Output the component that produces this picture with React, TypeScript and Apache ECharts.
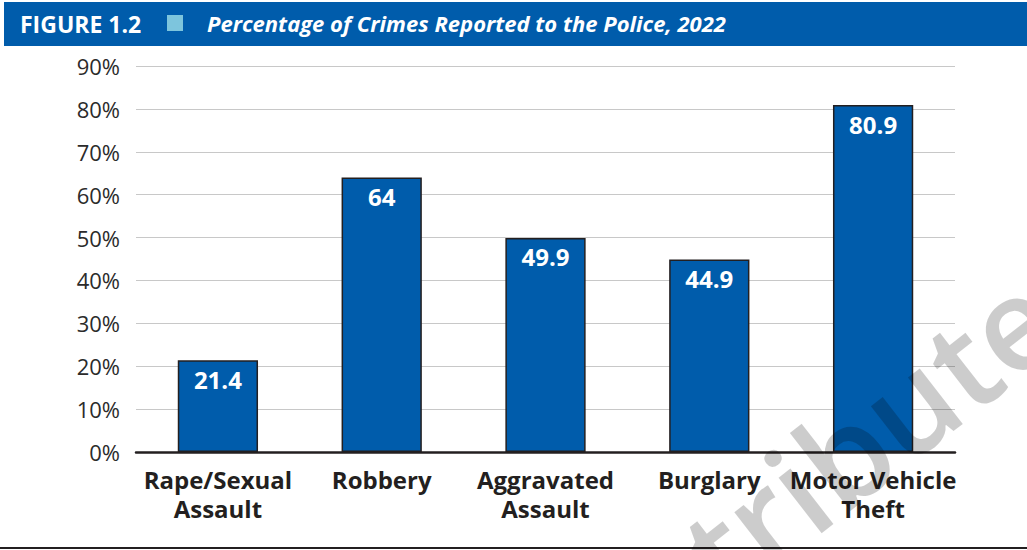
import React, { useEffect, useRef } from "react";
import * as echarts from "echarts";

const categories = ["Rape/Sexual\nAssault", "Robbery", "Aggravated\nAssault", "Burglary", "Motor Vehicle\nTheft"];
const values = [21.4, 64, 49.9, 44.9, 80.9];
const yTicks = { min: 0, max: 90, interval: 10 };
const figureLabel = "FIGURE 1.2";
const titleText = "Percentage of Crimes Reported to the Police, 2022";
const watermark = "distribute";

export default function App() {
  const ref = useRef<HTMLDivElement>(null);
  useEffect(() => {
    document.body.style.margin = "0";
    const chart = echarts.init(ref.current!, null, { renderer: "svg" });
    chart.setOption({
      animation: false,
      backgroundColor: "#ffffff",
      grid: { left: 136, right: 72, top: 66, bottom: 98 },
      xAxis: {
        type: "category",
        data: categories,
        axisLine: { show: true, lineStyle: { color: "#231f20", width: 2.5 } },
        axisTick: { show: false },
        axisLabel: {
          color: "#231f20",
          fontFamily: "Open Sans",
          fontWeight: "bold",
          fontSize: 24,
          lineHeight: 29,
          margin: 13,
          interval: 0,
        },
      },
      yAxis: {
        type: "value",
        min: yTicks.min,
        max: yTicks.max,
        interval: yTicks.interval,
        axisLine: { show: false },
        axisTick: { show: false },
        splitLine: { lineStyle: { color: "#c8c8c8", width: 1.2 } },
        axisLabel: {
          formatter: "{value}%",
          color: "#2b2b2b",
          fontFamily: "Open Sans",
          fontSize: 22,
          margin: 16,
        },
      },
      series: [
        {
          type: "bar",
          data: values,
          barWidth: "49%",
          itemStyle: { color: "#005cab", borderColor: "#231f20", borderWidth: 1.5 },
          label: {
            show: true,
            position: "insideTop",
            distance: 7,
            color: "#ffffff",
            fontFamily: "Open Sans",
            fontWeight: "bold",
            fontSize: 24,
          },
        },
      ],
      graphic: [
        { type: "rect", shape: { x: 4, y: 2, width: 1023, height: 44 }, style: { fill: "#005cab" } },
        {
          type: "text",
          x: 20,
          y: 24,
          style: {
            text: figureLabel,
            fill: "#ffffff",
            font: "bold 23px 'Open Sans'",
            textVerticalAlign: "middle",
          },
        },
        { type: "rect", shape: { x: 167, y: 15, width: 16, height: 16 }, style: { fill: "#7dc5dd" } },
        {
          type: "text",
          x: 207,
          y: 23,
          style: {
            text: titleText,
            fill: "#ffffff",
            font: "italic bold 22px 'Open Sans'",
            textVerticalAlign: "middle",
          },
        },
        { type: "line", shape: { x1: 0, y1: 548, x2: 1027, y2: 548 }, style: { stroke: "#231f20", lineWidth: 2 } },
        {
          type: "text",
          x: 1040,
          y: 300,
          rotation: 0.66,
          z: 100,
          style: {
            text: watermark,
            fill: "rgba(0,0,0,0.2)",
            fontSize: 130,
            fontFamily: "Open Sans",
            fontWeight: 600,
            textAlign: "right",
            textVerticalAlign: "middle",
          },
        },
      ],
    });
    return () => chart.dispose();
  }, []);
  return <div ref={ref} style={{ position: "fixed", left: 0, top: 0, width: 1027, height: 550 }} />;
}
